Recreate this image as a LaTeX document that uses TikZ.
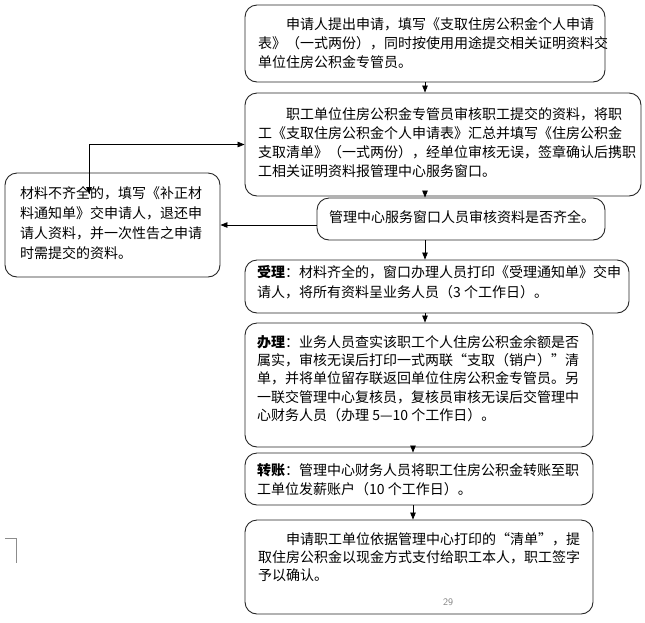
\documentclass[tikz,border=0pt]{standalone}
\usepackage{fontspec}
\newfontfamily\cjk{Noto Sans CJK SC}
\usetikzlibrary{arrows.meta}

\begin{document}
\begin{tikzpicture}[x=1pt,y=-1pt,
  box/.style={draw=black!85,line width=0.9pt,rounded corners=12pt,inner sep=0pt},
  txt/.style={anchor=north west,align=left,inner sep=0pt,font=\cjk\fontsize{14pt}{19.3pt}\selectfont},
  arr/.style={-{Triangle[length=7pt,width=5.5pt]},line width=0.8pt}]
\useasboundingbox (0,0) rectangle (645,622);

% boxes
\node[box,minimum width=360pt,minimum height=77pt]  (apply)    at (425,43.5) {};
\node[box,minimum width=396pt,minimum height=103pt] (collect)  at (443,144.5) {};
\node[box,minimum width=288pt,minimum height=42pt]  (check)    at (461,219) {};
\node[box,minimum width=215pt,minimum height=104pt] (reject)   at (112.5,225) {};
\node[box,minimum width=384pt,minimum height=53pt]  (accept)   at (437,286.5) {};
\node[box,minimum width=348pt,minimum height=124pt] (handle)   at (419,385) {};
\node[box,minimum width=348pt,minimum height=52pt]  (transfer) at (419,479) {};
\node[box,minimum width=348pt,minimum height=94pt]  (pay)      at (419,567) {};

% texts
\node[txt] (applyt) at (258,17) {\hspace*{2em}申请人提出申请，填写《支取住房公积金个人申请\\
表》（一式两份），同时按使用用途提交相关证明资料交\\
单位住房公积金专管员。};
\node[txt] (collectt) at (258,107) {\hspace*{2em}职工单位住房公积金专管员审核职工提交的资料，将职\\
工《支取住房公积金个人申请表》汇总并填写《住房公积金\\
支取清单》（一式两份），经单位审核无误，签章确认后携职\\
工相关证明资料报管理中心服务窗口。};
\node[txt] (checkt) at (329,210) {管理中心服务窗口人员审核资料是否齐全。};
\node[txt,font=\cjk\fontsize{14pt}{20pt}\selectfont] (rejectt) at (20,186) {材料不齐全的，填写《补正材\\
料通知单》交申请人，退还申\\
请人资料，并一次性告之申请\\
时需提交的资料。};
\node[txt,font=\cjk\fontsize{14pt}{20pt}\selectfont] (acceptt) at (257,265) {\textbf{受理}：材料齐全的，窗口办理人员打印《受理通知单》交申\\
请人，将所有资料呈业务人员（3 个工作日）。};
\node[txt,font=\cjk\fontsize{14pt}{18.3pt}\selectfont] (handlet) at (257,335) {\textbf{办理}：业务人员查实该职工个人住房公积金余额是否\\
属实，审核无误后打印一式两联“支取（销户）”清\\
单，并将单位留存联返回单位住房公积金专管员。另\\
一联交管理中心复核员，复核员审核无误后交管理中\\
心财务人员（办理 5—10 个工作日）。};
\node[txt] (transfert) at (257,463) {\textbf{转账}：管理中心财务人员将职工住房公积金转账至职\\
工单位发薪账户（10 个工作日）。};
\node[txt,font=\cjk\fontsize{14pt}{18.3pt}\selectfont] (payt) at (258,532) {\hspace*{2em}申请职工单位依据管理中心打印的“清单”，提\\
取住房公积金以现金方式支付给职工本人，职工签字\\
予以确认。};
\node[text=black!50,font=\sffamily\fontsize{10pt}{10pt}\selectfont] (page) at (448,602) {29};

% connectors
\coordinate (mx) at (425,0);
\coordinate (nx) at (413,0);
\coordinate (ret) at (89,194);
\foreach \a/\b in {apply/collect,collect/check,check/accept,accept/handle}
  \draw[arr] (\a.south -| mx) -- (\b.north -| mx);
\foreach \a/\b in {handle/transfer,transfer/pay}
  \draw[arr] (\a.south -| nx) -- (\b.north -| nx);
\draw[arr] (check.west |- reject.east) -- (reject.east);
\draw[arr] (ret) |- (collect.west);
\draw[-{Triangle[length=7pt,width=5.5pt]},line width=0.8pt] (collect.west -| ret) -- (ret);

\draw[black!45] (5,538) -- (16,538) -- (16,563);

\end{tikzpicture}
\end{document}
